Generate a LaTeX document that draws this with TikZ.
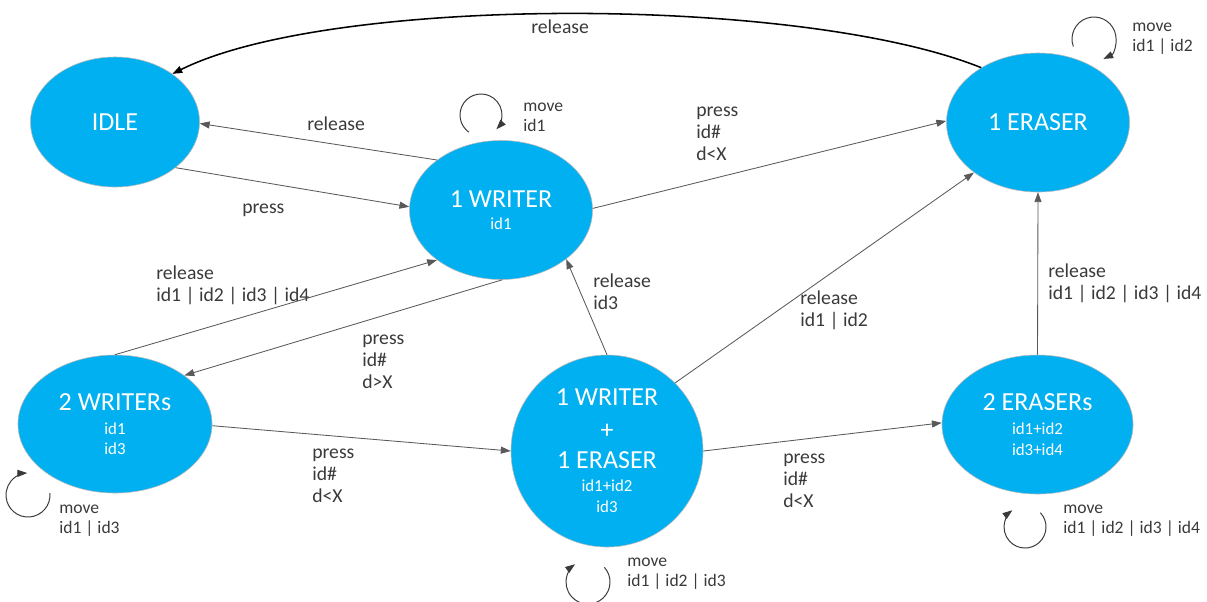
\documentclass[tikz,border=0pt]{standalone}
\usepackage{fontspec}
\setmainfont{Carlito}
\usetikzlibrary{shapes.geometric,arrows.meta}
\definecolor{stateblue}{HTML}{00B0F0}
\definecolor{edgegray}{HTML}{595959}
\definecolor{labelgray}{HTML}{3A3A3A}
\newcommand{\stbig}{\fontsize{18.5}{22}\selectfont}
\begin{document}
\begin{tikzpicture}[x=0.025cm,y=0.025cm,
  state/.style={ellipse, fill=stateblue, draw=gray!55, line width=0.4pt, inner sep=0pt,
    text=white, align=center, font=\fontsize{12}{14.2}\selectfont},
  tip/.style={-{Triangle[length=7pt,width=5pt]}},
  edge/.style={draw=edgegray, line width=0.6pt, tip},
  curveedge/.style={draw=black, line width=1.1pt, tip},
  loopedge/.style={draw=labelgray, line width=0.7pt, tip},
  lbl/.style={anchor=north west, text=labelgray, align=left, inner sep=0pt,
    font=\fontsize{14}{15.5}\selectfont},
  mlbl/.style={anchor=north west, text=labelgray, align=left, inner sep=0pt,
    font=\fontsize{12.5}{14.2}\selectfont}]
\useasboundingbox (0,0) rectangle (1207,-601);

% states
\node[state, minimum width=4.225cm, minimum height=3.25cm] (idle) at (115,-122) {\stbig IDLE};
\node[state, minimum width=4.575cm, minimum height=3.475cm] (w1) at (501,-210)
  {{\stbig 1 WRITER}\\[1.7pt]id1};
\node[state, minimum width=4.575cm, minimum height=3.475cm] (e1) at (1038,-122.5) {\stbig 1 ERASER};
\node[state, minimum width=4.85cm, minimum height=3.45cm, text depth=0pt] (w2) at (115,-424)
  {{\stbig 2 WRITERs}\\[3.1pt]id1\\id3};
\node[state, minimum width=4.8cm, minimum height=4.8cm] (we) at (607,-451)
  {{\stbig 1 WRITER}\\[9.4pt]{\stbig +}\\[7pt]{\stbig 1 ERASER}\\[1.7pt]id1+id2\\[1.4pt]id3};
\node[state, minimum width=4.775cm, minimum height=3.475cm] (e2) at (1037.5,-424.5)
  {{\stbig 2 ERASERs}\\[2.4pt]id1+id2\\[0.7pt]id3+id4};

% transitions
\draw[curveedge] (e1.136) .. controls (800,5) and (330,5) .. (idle.40);
\draw[edge] (w1.142) -- (idle.-1);
\draw[edge] (idle.-37) -- (w1.178);
\draw[edge] (w1.1) -- (e1.179);
\draw[edge] (w2.90) -- (w1.218);
\draw[edge] (w1.271) -- (w2.35);
\draw[edge] (w2.-1) -- (we.180);
\draw[edge] (we.90) -- (w1.-37);
\draw[edge] (we.45) -- (e1.218);
\draw[edge] (we.0) -- (e2.179);
\draw[edge] (e2.90) -- (e1.270);

% self loops
\coordinate (lw1) at (481,-115);
\coordinate (le1) at (1094,-39);
\coordinate (lw2) at (28,-495);
\coordinate (lwe) at (588,-582);
\coordinate (le2) at (1025,-527);
\draw[loopedge] ([shift={(235:21)}]lw1) arc[start angle=235, end angle=-43, radius=21];
\draw[loopedge] ([shift={(200:22)}]le1) arc[start angle=200, end angle=-65, radius=22];
\draw[loopedge] ([shift={(5:22)}]lw2) arc[start angle=5, end angle=-268, radius=22];
\draw[loopedge] ([shift={(42:22)}]lwe) arc[start angle=42, end angle=-234, radius=22];
\draw[loopedge] ([shift={(43:21)}]le2) arc[start angle=43, end angle=-233, radius=21];

% labels
\node[lbl] (t1) at (531,-18) {\strut release};
\node[lbl] (t2) at (307,-115) {\strut release};
\node[lbl] (t3) at (242,-198) {\strut press};
\node[lbl] (t4) at (696,-101) {\strut press\\id\#\\d<X};
\node[lbl] (t5) at (156,-264) {\strut release\\id1 | id2 | id3 | id4};
\node[lbl] (t6) at (362,-329) {\strut press\\id\#\\d>X};
\node[lbl] (t7) at (312,-443) {\strut press\\id\#\\d<X};
\node[lbl] (t8) at (593,-272) {\strut release\\id3};
\node[lbl] (t9) at (800,-289) {\strut release\\id1 | id2};
\node[lbl] (t10) at (783,-448) {\strut press\\id\#\\d<X};
\node[lbl] (t11) at (1048,-262) {\strut release\\id1 | id2 | id3 | id4};
\node[mlbl] (m1) at (523,-97) {\strut move\\id1};
\node[mlbl] (m2) at (1132,-17) {\strut move\\id1 | id2};
\node[mlbl] (m3) at (59,-499) {\strut move\\id1 | id3};
\node[mlbl] (m4) at (627,-552) {\strut move\\id1 | id2 | id3};
\node[mlbl] (m5) at (1063,-499) {\strut move\\id1 | id2 | id3 | id4};
\end{tikzpicture}
\end{document}
